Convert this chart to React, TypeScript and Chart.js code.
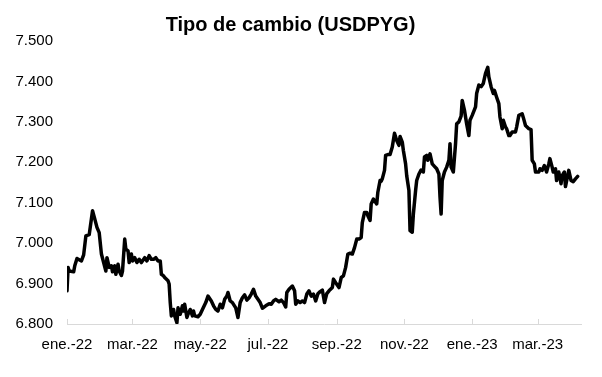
import { useEffect, useRef } from "react";
import { Chart, registerables } from "chart.js";

Chart.register(...registerables);

// Days elapsed since 1 Jan 2022
const dayOffsets = [
  0, 1, 2, 6, 7, 9, 11, 13, 15, 17, 20, 23, 25, 27, 29, 31, 33, 35, 36, 38,
  40, 41, 43, 44, 46, 47, 49, 50, 52, 53, 55, 56, 58, 59, 61, 63, 65, 67, 70, 72,
  74, 76, 78, 80, 82, 84, 85, 87, 88, 91, 92, 93, 94, 96, 97, 99, 100, 102, 104, 105,
  106, 108, 109, 111, 113, 114, 115, 118, 120, 122, 125, 127, 130, 132, 134, 136, 138, 140, 142, 144,
  145, 147, 149, 152, 154, 156, 158, 160, 162, 164, 166, 168, 170, 172, 174, 176, 179, 182, 184, 186,
  188, 191, 193, 195, 197, 198, 200, 203, 205, 206, 208, 210, 212, 214, 216, 218, 220, 222, 224, 226,
  228, 230, 232, 234, 236, 239, 240, 242, 245, 247, 249, 251, 253, 255, 257, 259, 261, 263, 265, 266,
  268, 270, 271, 273, 274, 276, 277, 279, 280, 282, 283, 284, 286, 287, 289, 291, 293, 295, 297, 299,
  300, 302, 303, 305, 306, 308, 309, 311, 312, 314, 315, 317, 319, 321, 322, 324, 325, 327, 329, 331,
  333, 335, 336, 337, 338, 340, 342, 344, 345, 346, 348, 350, 351, 353, 355, 356, 358, 360, 362, 363,
  365, 368, 369, 371, 373, 375, 377, 379, 380, 382, 384, 385, 387, 389, 390, 392, 393, 395, 396, 398,
  399, 401, 404, 405, 407, 410, 411, 413, 416, 418, 419, 421, 422, 425, 426, 428, 430, 432, 434, 435,
  437, 438, 440, 441, 443, 445, 446, 448, 449, 451, 452, 454, 456, 458, 460,
];

// USD/PYG exchange rate
const usdpyg = [
  6882, 6940, 6931, 6929, 6944, 6962, 6959, 6956, 6971, 7018, 7021, 7080, 7060, 7039, 7026, 6973, 6952, 6931, 6964, 6940,
  6944, 6929, 6944, 6923, 6948, 6931, 6920, 6931, 7010, 6985, 6981, 6952, 6973, 6956, 6964, 6952, 6960, 6952, 6964, 6956,
  6969, 6960, 6960, 6964, 6956, 6956, 6923, 6919, 6915, 6907, 6899, 6853, 6820, 6836, 6820, 6803, 6840, 6824, 6845, 6832,
  6849, 6816, 6824, 6836, 6820, 6832, 6820, 6818, 6824, 6836, 6853, 6869, 6857, 6845, 6836, 6832, 6849, 6840, 6861, 6869,
  6878, 6857, 6853, 6840, 6816, 6853, 6865, 6872, 6859, 6865, 6874, 6886, 6869, 6861, 6853, 6839, 6845, 6850, 6849, 6857,
  6861, 6855, 6859, 6853, 6842, 6878, 6886, 6894, 6882, 6849, 6857, 6853, 6857, 6853, 6874, 6882, 6869, 6874, 6857, 6875,
  6880, 6884, 6853, 6875, 6882, 6890, 6911, 6902, 6890, 6915, 6919, 6940, 6973, 6975, 6973, 6989, 7010, 7010, 7014, 7051,
  7076, 7076, 7068, 7056, 7097, 7109, 7105, 7097, 7126, 7155, 7153, 7159, 7180, 7217, 7219, 7219, 7238, 7272, 7254, 7242,
  7264, 7250, 7229, 7196, 7167, 7130, 7031, 7027, 7072, 7130, 7155, 7171, 7181, 7176, 7213, 7217, 7205, 7221, 7196, 7190,
  7184, 7171, 7114, 7072, 7155, 7176, 7188, 7205, 7246, 7188, 7176, 7246, 7295, 7300, 7314, 7353, 7329, 7295, 7266, 7304,
  7316, 7337, 7370, 7391, 7387, 7395, 7420, 7435, 7411, 7387, 7370, 7378, 7361, 7345, 7312, 7283, 7304, 7287, 7283, 7266,
  7266, 7275, 7275, 7287, 7316, 7320, 7311, 7291, 7283, 7281, 7205, 7196, 7176, 7176, 7184, 7180, 7192, 7176, 7196, 7209,
  7188, 7176, 7184, 7155, 7176, 7147, 7167, 7176, 7140, 7167, 7180, 7155, 7152, 7159, 7165,
];

const tickDays = [0, 59, 120, 181, 243, 304, 365, 424];
const tickLabels = ["ene.-22", "mar.-22", "may.-22", "jul.-22", "sep.-22", "nov.-22", "ene.-23", "mar.-23"];
const yMin = 6800;
const yMax = 7500;
const yStep = 100;

const fmt = (v: number) => {
  const n = Math.round(v);
  return Math.floor(n / 1000) + "." + String(n % 1000).padStart(3, "0");
};

const FONT = "'Liberation Sans', Arial, sans-serif";

const insideTicks = {
  id: "insideTicks",
  afterDraw(chart: any) {
    const s = chart.scales.x;
    const { ctx, chartArea } = chart;
    ctx.save();
    ctx.strokeStyle = "#d9d9d9";
    ctx.lineWidth = 1;
    tickDays.forEach((d) => {
      const px = Math.round(s.getPixelForValue(d)) + 0.5;
      ctx.beginPath();
      ctx.moveTo(px, chartArea.bottom);
      ctx.lineTo(px, chartArea.bottom - 5);
      ctx.stroke();
    });
    ctx.restore();
  },
};

export default function App() {
  const ref = useRef<HTMLCanvasElement>(null);
  useEffect(() => {
    document.body.style.margin = "0";
    const chart = new Chart(ref.current!, {
      type: "line",
      data: {
        datasets: [
          {
            data: dayOffsets.map((d, i) => ({ x: d, y: usdpyg[i] })),
            borderColor: "#000",
            borderWidth: 3.5,
            borderJoinStyle: "round",
            borderCapStyle: "round",
            pointRadius: 0,
            tension: 0,
            fill: false,
          },
        ],
      },
      options: {
        animation: false,
        responsive: false,
        maintainAspectRatio: false,
        layout: { padding: { left: 0, right: 21, top: 0, bottom: 0 } },
        plugins: {
          legend: { display: false },
          tooltip: { enabled: false },
          title: {
            display: true,
            text: "Tipo de cambio (USDPYG)",
            color: "#000",
            font: { family: FONT, size: 20, weight: "bold" },
            padding: { top: 13, bottom: 4 },
          },
        },
        scales: {
          x: {
            type: "linear",
            min: 0,
            max: 463,
            afterBuildTicks: (s: any) => {
              s.ticks = tickDays.map((v) => ({ value: v }));
            },
            afterFit: (s: any) => {
              s.height = 53;
            },
            ticks: {
              autoSkip: false,
              maxRotation: 0,
              color: "#000",
              font: { family: FONT, size: 15 },
              padding: 12,
              callback: (v: any) => {
                const i = tickDays.indexOf(Number(v));
                return i >= 0 ? tickLabels[i] : "";
              },
            },
            grid: { display: false, drawTicks: false },
            border: { display: true, color: "#d9d9d9", width: 1 },
          },
          y: {
            min: yMin,
            max: yMax,
            afterFit: (s: any) => {
              s.width = 67;
            },
            ticks: {
              stepSize: yStep,
              color: "#000",
              font: { family: FONT, size: 15 },
              padding: 14,
              callback: (v: any) => fmt(Number(v)),
            },
            grid: { display: false, drawTicks: false },
            border: { display: false },
          },
        },
      } as any,
      plugins: [insideTicks],
    });
    return () => chart.destroy();
  }, []);
  return (
    <div style={{ width: 602, height: 377 }}>
      <canvas ref={ref} width={602} height={377} style={{ display: "block", width: 602, height: 377 }} />
    </div>
  );
}
